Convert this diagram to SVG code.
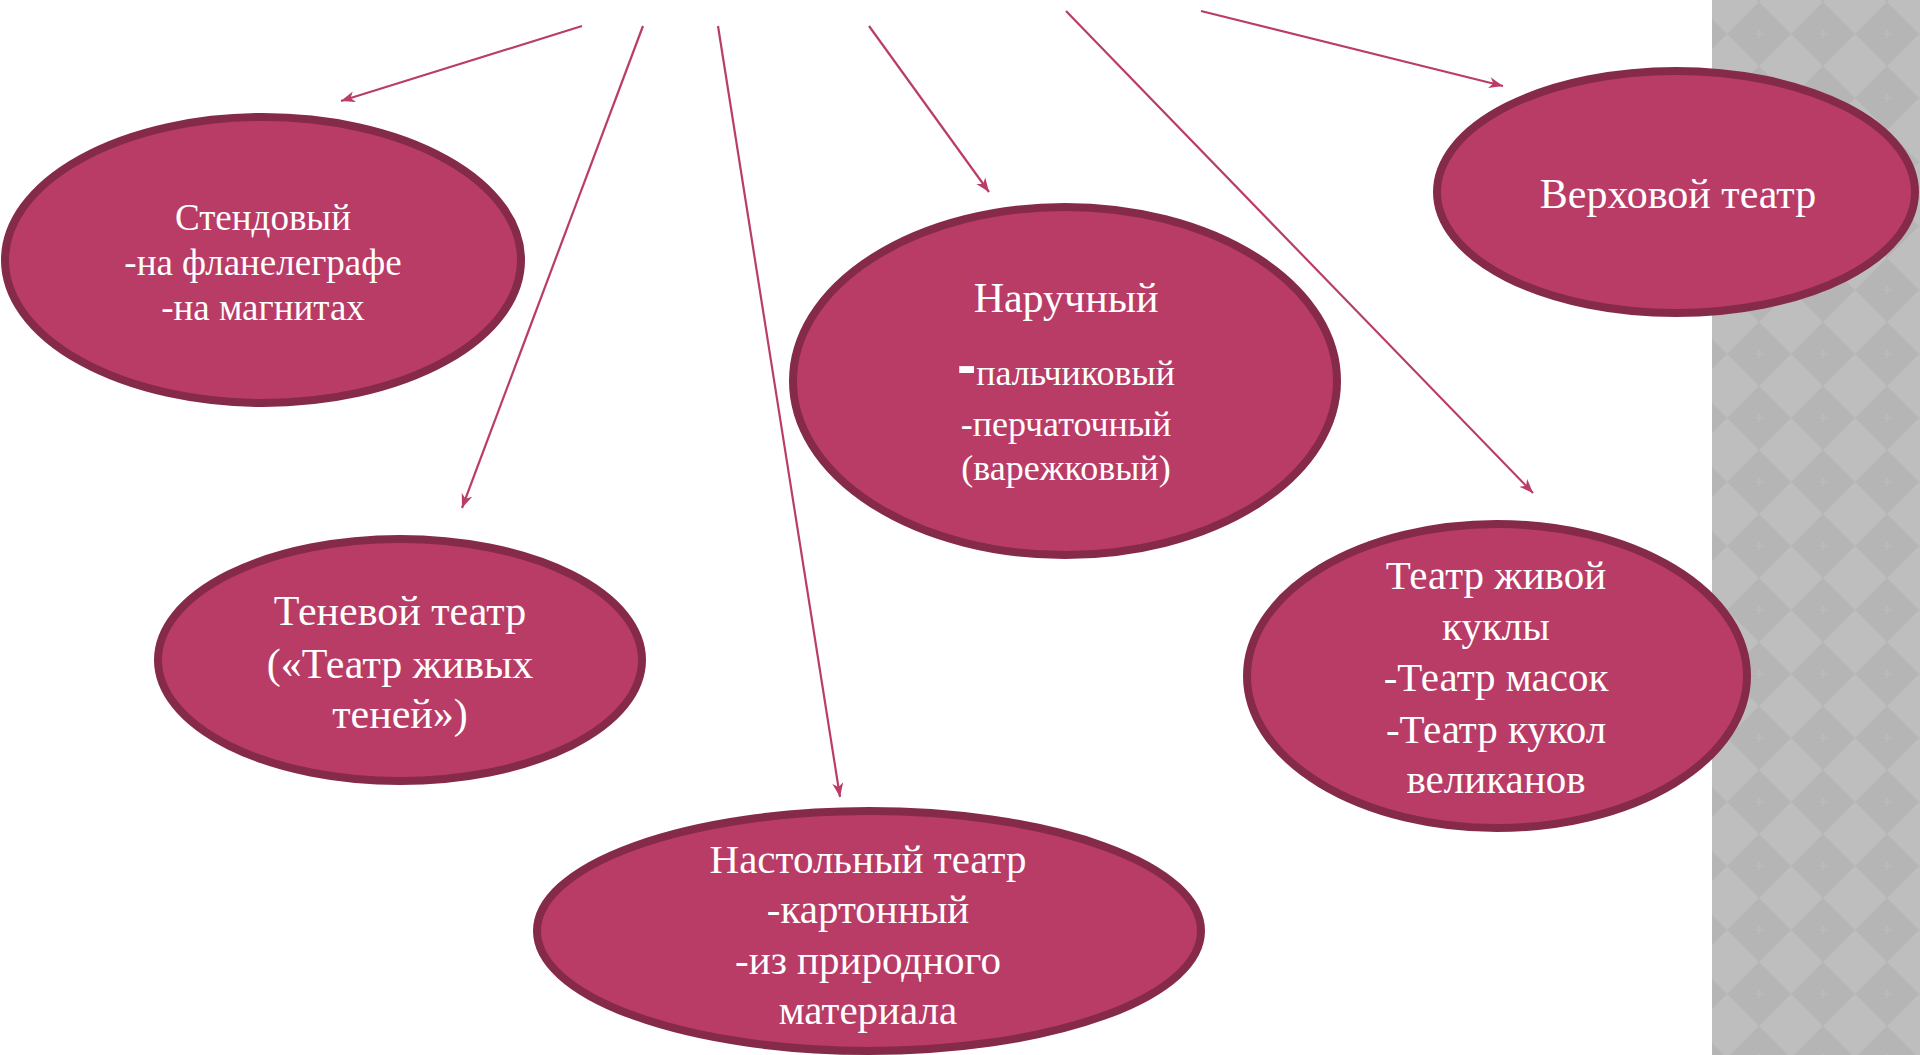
<svg xmlns="http://www.w3.org/2000/svg" width="1920" height="1055" viewBox="0 0 1920 1055">
<style>
.node ellipse{fill:#b93c67;stroke:#862a4a;stroke-width:8}
.node text{font-family:"Liberation Serif","Times New Roman",serif;fill:#ffffff;text-anchor:middle}
.conn line{stroke:#b93d68;stroke-width:2.2;fill:none;marker-end:url(#arr)}
</style>
<defs>
<marker id="arr" markerUnits="userSpaceOnUse" markerWidth="16" markerHeight="12" refX="14" refY="6" orient="auto" viewBox="0 0 16 12">
<path d="M0,0.5 L14,6 L0,11.5 L4,6 z" fill="#b93d68"/>
</marker>
<pattern id="diam" patternUnits="userSpaceOnUse" x="1727" y="2" width="64" height="64">
<rect width="64" height="64" fill="#bebebe"/>
<path d="M0,32 L32,0 L64,32 L32,64 z" fill="#b5b5b5"/>
<path d="M32,28 V36 M28,32 H36" stroke="#bfbfbf" stroke-width="1"/>
</pattern>
</defs>
<rect width="1920" height="1055" fill="#ffffff"/>
<rect x="1712" y="0" width="208" height="1055" fill="url(#diam)"/>

<g id="connectors" class="conn">
<line x1="582" y1="26" x2="341" y2="101"/>
<line x1="643" y1="26" x2="462" y2="508"/>
<line x1="718" y1="26" x2="840" y2="797"/>
<line x1="869" y1="26" x2="989" y2="192"/>
<line x1="1066" y1="11" x2="1533" y2="493"/>
<line x1="1201" y1="11" x2="1503" y2="86"/>
</g>

<g id="node-stend" class="node">
<ellipse cx="263" cy="260" rx="258" ry="143"/>
<text font-size="37"><tspan x="263" y="230">Стендовый</tspan><tspan x="263" y="275">-на фланелеграфе</tspan><tspan x="263" y="320">-на магнитах</tspan></text>
</g>

<g id="node-verhovoy" class="node">
<ellipse cx="1676" cy="192" rx="239" ry="121"/>
<text font-size="42" x="1678" y="208">Верховой театр</text>
</g>

<g id="node-naruchny" class="node">
<ellipse cx="1065" cy="381" rx="272" ry="174"/>
<text font-size="42" x="1066" y="312">Наручный</text>
<text font-size="36"><tspan x="1066" y="385"><tspan font-weight="bold" font-size="58" font-family="Liberation Sans, sans-serif">-</tspan>пальчиковый</tspan><tspan x="1066" y="436">-перчаточный</tspan><tspan x="1066" y="480">(варежковый)</tspan></text>
</g>

<g id="node-tenevoy" class="node">
<ellipse cx="400" cy="660" rx="242" ry="121"/>
<text font-size="42"><tspan x="400" y="625">Теневой театр</tspan><tspan x="400" y="678">(«Театр живых</tspan><tspan x="400" y="728">теней»)</tspan></text>
</g>

<g id="node-nastolny" class="node">
<ellipse cx="869" cy="931" rx="332" ry="120"/>
<text font-size="41"><tspan x="868" y="873">Настольный театр</tspan><tspan x="868" y="923">-картонный</tspan><tspan x="868" y="974">-из природного</tspan><tspan x="868" y="1024">материала</tspan></text>
</g>

<g id="node-zhivoy" class="node">
<ellipse cx="1497" cy="676" rx="250" ry="152"/>
<text font-size="41"><tspan x="1496" y="589">Театр живой</tspan><tspan x="1496" y="640">куклы</tspan><tspan x="1496" y="691">-Театр масок</tspan><tspan x="1496" y="743">-Театр кукол</tspan><tspan x="1496" y="793">великанов</tspan></text>
</g>
</svg>
